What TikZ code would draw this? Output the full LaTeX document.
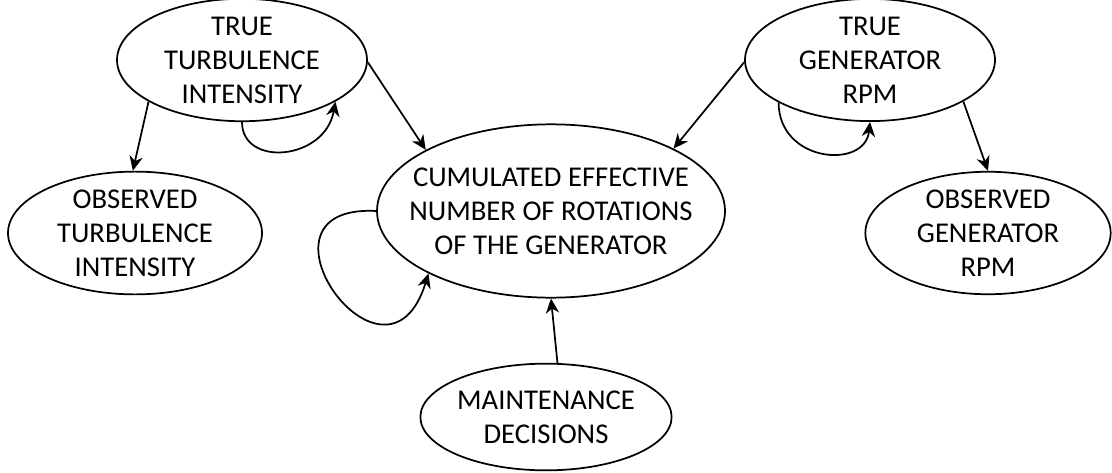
\documentclass[tikz,border=0pt]{standalone}
\usepackage{fontspec}
\setmainfont{Carlito}
\usepackage{tikz}
\usetikzlibrary{arrows.meta,shapes.geometric}

\begin{document}
\begin{tikzpicture}[x=0.75pt,y=0.75pt,
  every node/.style={font=\fontsize{21.5}{25.5}\selectfont,align=center},
  state/.style={ellipse,draw,line width=1.3pt,inner sep=0pt},
  link/.style={-{Stealth[length=11pt,width=10pt,inset=3.5pt]},line width=1.3pt}]
  \useasboundingbox (0,0) rectangle (1112,472);
  \node[state,minimum width=187.5pt,minimum height=81.5pt] (tti) at (242,412) {TRUE\\TURBULENCE\\INTENSITY};
  \node[state,minimum width=187.5pt,minimum height=81.5pt] (tgr) at (870,412) {TRUE\\GENERATOR\\RPM};
  \node[state,minimum width=190.5pt,minimum height=81pt] (oti) at (135,239) {OBSERVED\\TURBULENCE\\INTENSITY};
  \node[state,minimum width=184pt,minimum height=81pt] (ogr) at (988,239) {OBSERVED\\GENERATOR\\RPM};
  \node[state,inner xsep=-16pt,minimum width=261pt,minimum height=130pt] (cum) at (551,261) {CUMULATED EFFECTIVE\\NUMBER OF ROTATIONS\\OF THE GENERATOR};
  \node[state,minimum width=171pt,minimum height=80pt] (mnt) at (546,55) {MAINTENANCE\\DECISIONS};
  \draw[link] (tti.204) -- (oti.92);
  \draw[link] (tti.-1) -- (cum.154);
  \draw[link] (tgr.181) -- (cum.27);
  \draw[link] (tgr.-24) -- (ogr.90);
  \draw[link] (mnt.78) -- (cum.270);
  \draw[link] (tti.south) to[out=-90,in=260,out distance=34pt,in distance=45pt] (tti.-24);
  \draw[link] (tgr.205) to[out=-90,in=264,out distance=45pt,in distance=36pt] (tgr.south);
  \draw[link] (cum.180) to[out=177,in=253,out distance=104pt,in distance=108pt] (cum.207);
\end{tikzpicture}
\end{document}
